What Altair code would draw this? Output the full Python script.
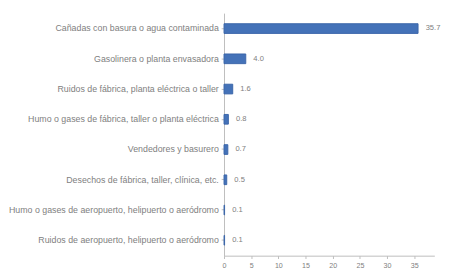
import altair as alt
import pandas as pd

categories = [
    "Cañadas con basura o agua contaminada",
    "Gasolinera o planta envasadora",
    "Ruidos de fábrica, planta eléctrica o taller",
    "Humo o gases de fábrica, taller o planta eléctrica",
    "Vendedores y basurero",
    "Desechos de fábrica, taller, clínica, etc.",
    "Humo o gases de aeropuerto, helipuerto o aeródromo",
    "Ruidos de aeropuerto, helipuerto o aeródromo",
]
values = [35.7, 4.0, 1.6, 0.8, 0.7, 0.5, 0.1, 0.1]
x_ticks = [0, 5, 10, 15, 20, 25, 30, 35]

df = pd.DataFrame({"cat": categories, "val": values})

xscale = alt.Scale(domain=[0, 38.7], nice=False)
xaxis = alt.Axis(values=x_ticks, grid=False, labelFontSize=7.5,
                 labelColor="#808080", domainColor="#bbb", tickColor="#bbb",
                 tickSize=3, labelPadding=3, labelOverlap=False,
                 labelFlush=False)

base = alt.Chart(df).encode(
    x=alt.X("val:Q", title=None, scale=xscale, axis=xaxis),
    y=alt.Y("cat:N", sort=categories, title=None,
            scale=alt.Scale(paddingInner=0.68, paddingOuter=0.35),
            axis=alt.Axis(labelFontSize=9.3, labelColor="#808080", labelLimit=300,
                          domainColor="#bbb", tickColor="#bbb", tickSize=3,
                          labelPadding=3)),
)

bars = base.mark_bar(color="#4472b8", stroke="#3a64a8", strokeWidth=1)

text = base.mark_text(align="left", dx=8, fontSize=8, color="#808080").encode(
    text=alt.Text("val:Q", format=".1f"),
)

chart = (bars + text).properties(
    width=222, height=256,
    padding={"top": -2, "left": 0, "right": 0, "bottom": 0},
).configure_view(stroke=None)

chart.save("out.html", embed_options={"renderer": "svg", "actions": False})
